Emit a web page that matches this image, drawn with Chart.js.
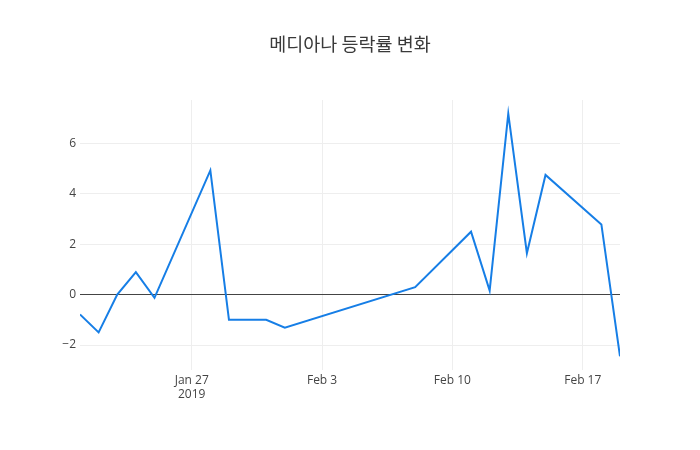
<!DOCTYPE html>
<html>
<head>
<meta charset="utf-8">
<script src="https://cdn.jsdelivr.net/npm/chart.js@4"></script>
<style>
  html, body { margin: 0; padding: 0; background: #fff; }
  #wrap { width: 700px; height: 450px; }
</style>
</head>
<body>
<div id="wrap"><canvas id="chart-area" width="700" height="450"></canvas></div>
<script>
var dates = ["2019-01-21", "2019-01-22", "2019-01-23", "2019-01-24", "2019-01-25",
             "2019-01-28", "2019-01-29", "2019-01-31", "2019-02-01", "2019-02-08",
             "2019-02-11", "2019-02-12", "2019-02-13", "2019-02-14", "2019-02-15",
             "2019-02-18", "2019-02-19"];
var changes = [-0.79, -1.5, 0.0, 0.89, -0.13,
               4.92, -1.0, -1.0, -1.31, 0.29,
               2.49, 0.16, 7.17, 1.64, 4.74,
               2.78, -2.45];
var tickDates = ["2019-01-27", "2019-02-03", "2019-02-10", "2019-02-17"];
var yTicks = [-2, 0, 2, 4, 6];
var months = ["Jan", "Feb", "Mar", "Apr", "May", "Jun", "Jul", "Aug", "Sep", "Oct", "Nov", "Dec"];

function toDay(s) {
    var p = s.split("-");
    return Date.UTC(+p[0], +p[1] - 1, +p[2]) / 86400000;
}

var points = [];
for (var i = 0; i < dates.length; i++) {
    points.push({x: toDay(dates[i]), y: changes[i]});
}

var tickFont = {family: "'Open Sans', sans-serif", size: 12};

var ctx = document.getElementById("chart-area").getContext("2d");
var myChart = new Chart(ctx, {
    type: 'line',
    data: {
        datasets: [{
            label: "등락률",
            data: points,
            borderColor: "rgb(22,126,230)",
            borderWidth: 2,
            pointRadius: 0,
            tension: 0,
            fill: false
        }]
    },
    options: {
        responsive: false,
        animation: false,
        layout: {padding: 0},
        plugins: {
            legend: {display: false},
            tooltip: {enabled: false},
            title: {
                display: true,
                text: "메디아나 등락률 변화",
                color: "#3a3a3a",
                font: {family: "'Noto Sans CJK KR', sans-serif", size: 18.5, weight: 'normal', lineHeight: 1.2},
                padding: {top: 33, bottom: 44.8}
            }
        },
        scales: {
            x: {
                type: 'linear',
                min: toDay(dates[0]),
                max: toDay(dates[dates.length - 1]),
                afterFit: function(scale) { scale.height = 80; },
                afterBuildTicks: function(scale) {
                    scale.ticks = tickDates.map(function(d) { return {value: toDay(d)}; });
                },
                border: {display: false},
                grid: {color: "#eee", drawTicks: false},
                ticks: {
                    color: "#444",
                    font: tickFont,
                    padding: 3,
                    maxRotation: 0,
                    autoSkip: false,
                    callback: function(v, idx) {
                        var d = new Date(v * 86400000);
                        var s = months[d.getUTCMonth()] + " " + d.getUTCDate();
                        return idx === 0 ? [s, String(d.getUTCFullYear())] : s;
                    }
                }
            },
            y: {
                position: 'left',
                min: -2.99,
                max: 7.71,
                afterFit: function(scale) { scale.width = 80; },
                afterBuildTicks: function(scale) {
                    scale.ticks = yTicks.map(function(v) { return {value: v}; });
                },
                border: {display: false},
                grid: {
                    drawTicks: false,
                    lineWidth: 1,
                    color: function(c) { return c.tick && c.tick.value === 0 ? "#444" : "#eee"; }
                },
                ticks: {
                    color: "#444",
                    font: tickFont,
                    padding: 4,
                    callback: function(v) { return v < 0 ? "\u2212" + Math.abs(v) : String(v); }
                }
            },
            right: {
                position: 'right',
                display: true,
                afterFit: function(scale) { scale.width = 80; },
                border: {display: false},
                grid: {display: false, drawTicks: false},
                ticks: {display: false}
            }
        }
    }
});
</script>
</body>
</html>
